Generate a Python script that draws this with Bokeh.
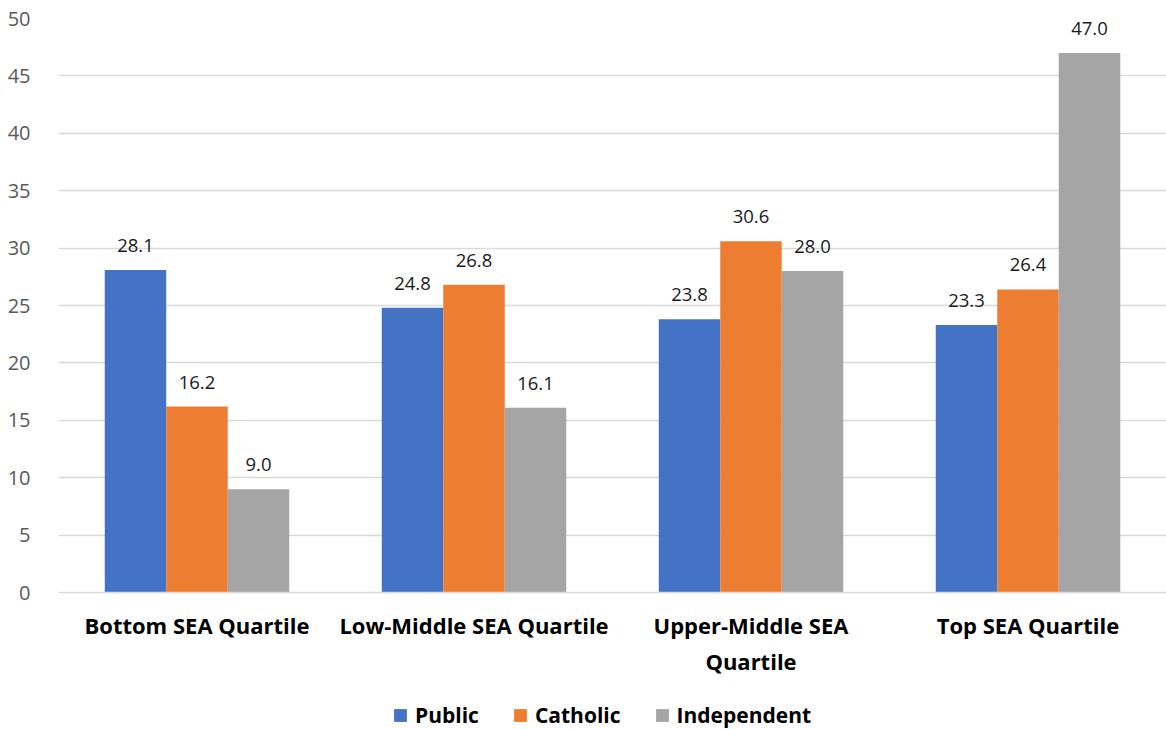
from bokeh.plotting import figure
from bokeh.layouts import column
from bokeh.models import FactorRange, ColumnDataSource, Legend, LegendItem, SingleIntervalTicker
from bokeh.transform import dodge
from bokeh.core.properties import value
from bokeh.embed import file_html
from bokeh.resources import INLINE

categories = ["Bottom SEA Quartile", "Low-Middle SEA Quartile", "Upper-Middle SEA\nQuartile", "Top SEA Quartile"]
public = [28.1, 24.8, 23.8, 23.3]
catholic = [16.2, 26.8, 30.6, 26.4]
independent = [9.0, 16.1, 28.0, 47.0]
series_names = ["Public", "Catholic", "Independent"]
colors = ["#4472C4", "#ED7D31", "#A5A5A5"]

src = ColumnDataSource(dict(
    cat=categories,
    public=public, catholic=catholic, independent=independent,
    public_lbl=[f"{v:.1f}" for v in public],
    catholic_lbl=[f"{v:.1f}" for v in catholic],
    independent_lbl=[f"{v:.1f}" for v in independent],
))

p = figure(x_range=FactorRange(*categories, range_padding=0), y_range=(0, 50),
           width=1166, height=680, output_backend="svg", toolbar_location=None,
           min_border_left=58, min_border_right=0, min_border_top=18, min_border_bottom=88)
p.outline_line_color = None
p.background_fill_color = "white"
p.border_fill_color = "white"

bw = 0.222
cols = ["public", "catholic", "independent"]
offsets = [-bw, 0.0, bw]
for col, off, c in zip(cols, offsets, colors):
    p.vbar(x=dodge("cat", off, range=p.x_range), top=col, width=bw, source=src,
           fill_color=c, line_color=None)
    p.text(x=dodge("cat", off, range=p.x_range), y=col, text=col + "_lbl", source=src,
           text_align="center", text_baseline="bottom", y_offset=-18,
           text_font=value("Open Sans"), text_font_size="18.5px", text_color="#1a1a1a")

p.yaxis.ticker = SingleIntervalTicker(interval=5)
p.yaxis.axis_line_color = None
p.yaxis.major_tick_line_color = None
p.yaxis.minor_tick_line_color = None
p.yaxis.major_label_text_font = "Open Sans"
p.yaxis.major_label_text_font_size = "20px"
p.yaxis.major_label_text_color = "#595959"
p.yaxis.major_label_standoff = 22

p.xaxis.axis_line_color = "#D9D9D9"
p.xaxis.axis_line_width = 1.5
p.xaxis.major_tick_line_color = None
p.xaxis.minor_tick_line_color = None
p.xaxis.major_label_text_font = "Open Sans"
p.xaxis.major_label_text_font_style = "bold"
p.xaxis.major_label_text_font_size = "22px"
p.xaxis.major_label_text_color = "#000000"
p.xaxis.major_label_standoff = 11

p.xgrid.grid_line_color = None
p.ygrid.grid_line_color = "#D9D9D9"
p.ygrid.grid_line_width = 1.5

# legend strip under the chart; the swatch quads sit outside the strip's visible range
lf = figure(width=1166, height=49, x_range=(0, 1), y_range=(0, 1),
            output_backend="svg", toolbar_location=None,
            min_border_left=0, min_border_right=0, min_border_top=0, min_border_bottom=0)
lf.axis.visible = False
lf.grid.visible = False
lf.outline_line_color = None
swatch = ColumnDataSource(dict(l=[-3], r=[-2], b=[-3], t=[-2]))
legend_renderers = [lf.quad(left="l", right="r", bottom="b", top="t", source=swatch,
                            fill_color=c, line_color=None) for c in colors]
legend = Legend(items=[LegendItem(label=n, renderers=[r]) for n, r in zip(series_names, legend_renderers)],
                orientation="horizontal", location=(334, 0), margin=0, padding=4,
                label_text_font="Open Sans", label_text_font_style="bold",
                label_text_font_size="21px", label_text_color="#000000",
                glyph_width=16, glyph_height=16, spacing=33, label_standoff=7,
                border_line_color=None, background_fill_alpha=0)
lf.add_layout(legend, "center")

layout = column(p, lf, spacing=0)
open("out.html", "w").write(file_html(layout, INLINE))
